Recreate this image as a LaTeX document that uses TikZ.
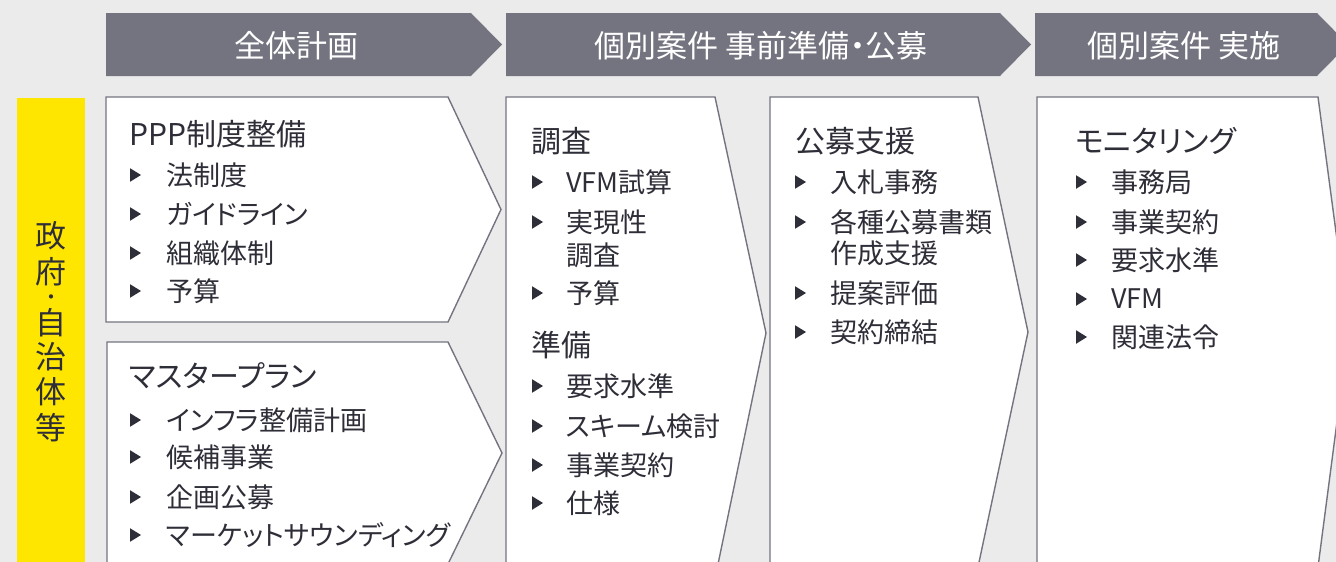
\documentclass[tikz,border=0pt]{standalone}
\usepackage{fontspec}
\newfontfamily\cjk[RawFeature=+palt]{Noto Sans CJK JP}
\definecolor{bg}{RGB}{235,235,235}
\definecolor{hdr}{RGB}{116,116,128}
\definecolor{edge}{RGB}{116,116,128}
\definecolor{txt}{RGB}{46,46,56}
\definecolor{eyyellow}{RGB}{255,230,0}
\newcommand\bitem[5]{\pic at (#2,#4) {bul}; \node[item] (#1) at (#3,#4) {#5};}
\begin{document}
\begin{tikzpicture}[x=1pt,y=-1pt,
  hdrshape/.style={fill=hdr,draw=none},
  boxshape/.style={fill=white,draw=edge,line width=1.4pt,line join=miter},
  hdrtext/.style={font=\cjk\fontsize{31}{36}\selectfont,text=white,inner sep=0pt},
  heading/.style={font=\cjk\fontsize{30}{36}\selectfont,text=txt,anchor=west,inner sep=0pt},
  item/.style={font=\cjk\fontsize{27}{33}\selectfont,text=txt,anchor=west,inner sep=0pt},
  vtext/.style={font=\cjk\fontsize{31}{36}\selectfont,text=txt,inner sep=0pt},
  bul/.pic={\fill[txt] (0,-6.8) -- (11,0) -- (0,6.8) -- cycle;}
]
\useasboundingbox (0,0) rectangle (1336,562);
\clip (0,0) rectangle (1336,562);
\fill[bg] (0,0) rectangle (1336,562);

% header chevrons
\fill[hdrshape] (106,13) -- (471,13) -- (502,44.5) -- (471,76) -- (106,76) -- cycle;
\fill[hdrshape] (506,13) -- (1000,13) -- (1031,44.5) -- (1000,76) -- (506,76) -- cycle;
\fill[hdrshape] (1035,13) -- (1317,13) -- (1348,44.5) -- (1317,76) -- (1035,76) -- cycle;
\node[hdrtext] (h1) at (296,46) {全体計画};
\node[hdrtext] (h2) at (761,46) {個別案件 事前準備・公募};
\node[hdrtext] (h3) at (1184,46) {個別案件 実施};

% yellow side bar
\fill[eyyellow] (17,98) rectangle (85,562);
\node[vtext] (v1) at (51,236) {政};
\node[vtext] (v2) at (51,272) {府};
\node[vtext,font=\cjk\fontsize{20}{22}\selectfont] (v3) at (51,300) {・};
\node[vtext] (v4) at (51,323) {自};
\node[vtext] (v5) at (51,357) {治};
\node[vtext] (v6) at (51,392) {体};
\node[vtext] (v7) at (51,428) {等};

% boxes
\draw[boxshape] (106,97) -- (448,97) -- (501,209.5) -- (448,322) -- (106,322) -- cycle;
\draw[boxshape] (107,342) -- (448,342) -- (502,453) -- (448,564) -- (107,564) -- cycle;
\draw[boxshape] (506,97) -- (715,97) -- (766,333) -- (717,569) -- (506,569) -- cycle;
\draw[boxshape] (770,97) -- (978,97) -- (1028,332) -- (978,567) -- (770,567) -- cycle;
\draw[boxshape] (1037,97) -- (1318,97) -- (1349,330) -- (1318,567) -- (1037,567) -- cycle;

% box 1
\node[heading] (b1h) at (129,134.5) {PPP制度整備};
\bitem{b1i1}{130}{166}{175}{法制度}
\bitem{b1i2}{130}{166}{214}{ガイドライン}
\bitem{b1i3}{130}{166}{253}{組織体制}
\bitem{b1i4}{130}{166}{291}{予算}

% box 2
\node[heading] (b2h) at (129,376) {マスタープラン};
\bitem{b2i1}{130}{166}{420}{インフラ整備計画}
\bitem{b2i2}{130}{166}{457}{候補事業}
\bitem{b2i3}{130}{166}{497}{企画公募}
\bitem{b2i4}{130}{166}{535}{マーケットサウンディング}

% box 3
\node[heading] (b3h) at (531,141) {調査};
\bitem{b3i1}{532}{566}{182}{VFM試算}
\bitem{b3i2}{532}{566}{222}{実現性}
\node[item] (b3i2b) at (566,255) {調査};
\bitem{b3i3}{532}{566}{293}{予算}
\node[heading] (b3h2) at (531,345) {準備};
\bitem{b3i4}{532}{566}{386}{要求水準}
\bitem{b3i5}{532}{566}{426}{スキーム検討}
\bitem{b3i6}{532}{566}{465}{事業契約}
\bitem{b3i7}{532}{566}{503}{仕様}

% box 4
\node[heading] (b4h) at (795,141) {公募支援};
\bitem{b4i1}{795}{830}{182}{入札事務}
\bitem{b4i2}{795}{830}{222}{各種公募書類}
\node[item] (b4i2b) at (830,253) {作成支援};
\bitem{b4i3}{795}{830}{293}{提案評価}
\bitem{b4i4}{795}{830}{332}{契約締結}

% box 5
\node[heading] (b5h) at (1075,141) {モニタリング};
\bitem{b5i1}{1076}{1111}{182}{事務局}
\bitem{b5i2}{1076}{1111}{222}{事業契約}
\bitem{b5i3}{1076}{1111}{260}{要求水準}
\bitem{b5i4}{1076}{1111}{299}{VFM}
\bitem{b5i5}{1076}{1111}{337}{関連法令}
\end{tikzpicture}
\end{document}
